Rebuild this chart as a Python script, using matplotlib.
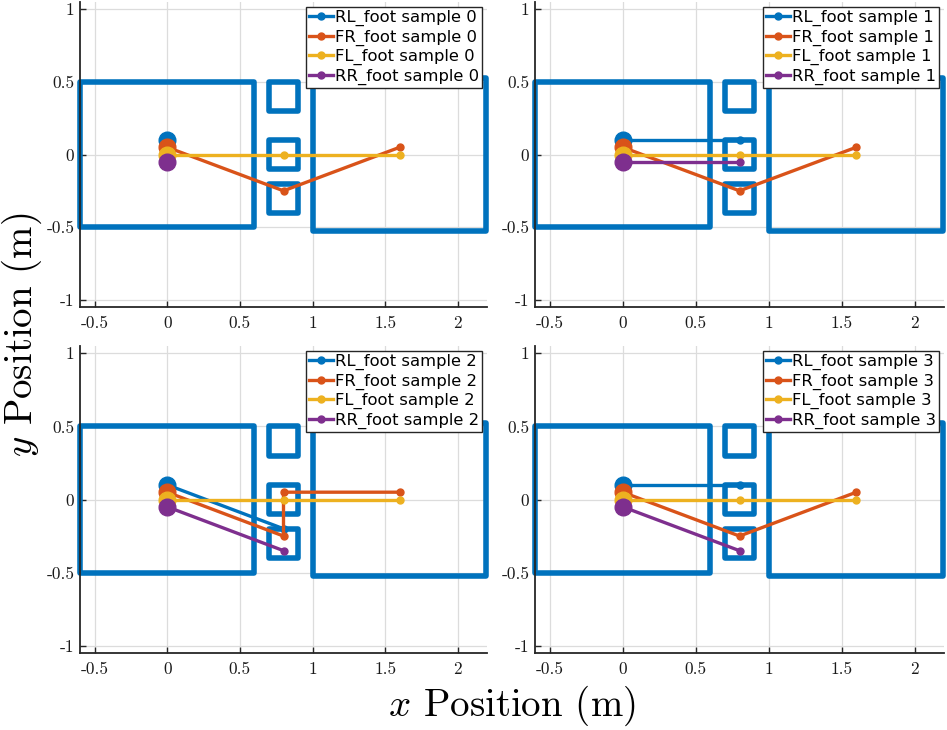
import matplotlib
matplotlib.use("Agg")
import matplotlib.pyplot as plt
from matplotlib.patches import Rectangle

plt.rcParams['mathtext.fontset'] = 'cm'
plt.rcParams['axes.unicode_minus'] = False

# ---------------- data ----------------
feet = ["RL_foot", "FR_foot", "FL_foot", "RR_foot"]
colors = ["#0072BD", "#D95319", "#EDB120", "#7E2F8E"]

# terrain blocks: x0, y0, width, height
block_x0 = [-0.6, 0.7, 0.7, 0.7, 1.0]
block_y0 = [-0.5, 0.3, -0.1, -0.4, -0.525]
block_w = [1.2, 0.2, 0.2, 0.2, 1.19]
block_h = [1.0, 0.2, 0.2, 0.2, 1.05]

# foot trajectories per sample (x lists, y lists)
rl_x = [[0.0], [0.0, 0.8], [0.0, 0.8], [0.0, 0.8]]
rl_y = [[0.1], [0.1, 0.1], [0.1, -0.2], [0.1, 0.1]]
fr_x = [[0.0, 0.8, 1.6], [0.0, 0.8, 1.6], [0.0, 0.8, 0.8, 1.6], [0.0, 0.8, 1.6]]
fr_y = [[0.05, -0.25, 0.05], [0.05, -0.25, 0.05], [0.05, -0.25, 0.05, 0.05], [0.05, -0.25, 0.05]]
fl_x = [[0.0, 0.8, 1.6], [0.0, 0.8, 1.6], [0.0, 0.8, 1.6], [0.0, 0.8, 1.6]]
fl_y = [[0.0, 0.0, 0.0], [0.0, 0.0, 0.0], [0.0, 0.0, 0.0], [0.0, 0.0, 0.0]]
rr_x = [[0.0], [0.0, 0.8], [0.0, 0.8], [0.0, 0.8]]
rr_y = [[-0.05], [-0.05, -0.05], [-0.05, -0.35], [-0.05, -0.35]]

xticks = [-0.5, 0, 0.5, 1, 1.5, 2]
xtick_labels = ["-0.5", "0", "0.5", "1", "1.5", "2"]
yticks = [-1, -0.5, 0, 0.5, 1]
ytick_labels = ["-1", "-0.5", "0", "0.5", "1"]

# ---------------- figure ----------------
W, H = 947, 730
fig = plt.figure(figsize=(W / 100, H / 100), dpi=100)

def px_axes(l, t, r, b):
    return [l / W, 1 - b / H, (r - l) / W, (b - t) / H]

positions = [
    px_axes(80, 2, 487, 307),
    px_axes(535, 2, 944, 307),
    px_axes(80, 346, 487, 653),
    px_axes(535, 346, 944, 653),
]

axis_col = "#262626"
xs_all = [rl_x, fr_x, fl_x, rr_x]
ys_all = [rl_y, fr_y, fl_y, rr_y]

for s, pos in enumerate(positions):
    ax = fig.add_axes(pos)
    ax.set_xlim(-0.6, 2.2)
    ax.set_ylim(-1.05, 1.05)
    ax.set_axisbelow(True)
    ax.grid(True, color="#dcdcdc", linewidth=0.9)
    for sp in ["top", "right"]:
        ax.spines[sp].set_visible(False)
    for sp in ["left", "bottom"]:
        ax.spines[sp].set_color(axis_col)
        ax.spines[sp].set_linewidth(1.3)
    ax.tick_params(direction="in", length=4, width=1, colors=axis_col,
                   labelcolor="#1a1a1a")
    ax.set_xticks(xticks, labels=xtick_labels, fontfamily="cmr10", fontsize=12.5)
    ax.set_yticks(yticks, labels=ytick_labels, fontfamily="cmr10", fontsize=12.5)
    ax.tick_params(axis="x", pad=6)
    ax.tick_params(axis="y", pad=4)

    for x0, y0, w, h in zip(block_x0, block_y0, block_w, block_h):
        ax.add_patch(Rectangle((x0, y0), w, h, fill=False, edgecolor=colors[0],
                               linewidth=4, joinstyle="round", clip_on=False, zorder=2))

    for f in range(4):
        xs = xs_all[f][s]
        ys = ys_all[f][s]
        ax.plot(xs, ys, color=colors[f], linewidth=2.4, marker="o", markersize=5,
                label=f"{feet[f]} sample {s}", zorder=3 + f)
        ax.plot(xs[:1], ys[:1], color=colors[f], linestyle="none", marker="o",
                markersize=12, zorder=3 + f)

    leg = ax.legend(loc="upper right", fontsize=11.8, labelspacing=0.2,
                    handlelength=1.45, handletextpad=0.1, borderpad=0.2,
                    borderaxespad=0.3, fancybox=False, framealpha=1,
                    edgecolor=axis_col)
    leg.get_frame().set_linewidth(1.0)
    leg.set_zorder(20)

fig.text(512 / W, 1 - 706 / H, r"$x$ Position (m)", fontfamily="cmr10",
         fontsize=28, ha="center", va="center")
fig.text(22 / W, 1 - 335 / H, r"$y$ Position (m)", fontfamily="cmr10",
         fontsize=28, ha="center", va="center", rotation=90)

fig.savefig("out.png", dpi=100)
